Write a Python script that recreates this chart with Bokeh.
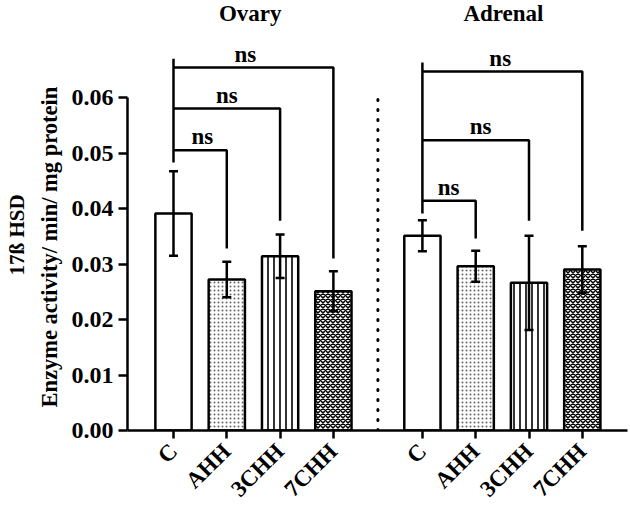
import math
from bokeh.plotting import figure
from bokeh.models import (ColumnDataSource, Whisker, TeeHead, FixedTicker, Range1d,
                          Title, NumeralTickFormatter)
from bokeh.core.properties import value
from bokeh.embed import file_html
from bokeh.resources import INLINE

# ---------------- data ----------------
treatments = ["C", "AHH", "3CHH", "7CHH"]
groups = ["Ovary", "Adrenal"]
group_offsets = [0.0, 4.67]

ovary_mean = [0.0391, 0.0272, 0.0314, 0.0251]
ovary_err = [0.0076, 0.0032, 0.0039, 0.0036]
adrenal_mean = [0.0351, 0.0296, 0.0266, 0.0290]
adrenal_err = [0.0028, 0.0028, 0.0085, 0.0042]

y_ticks = [0.0, 0.01, 0.02, 0.03, 0.04, 0.05, 0.06]
y_title_lines = ["17ß HSD", "Enzyme activity/ min/ mg protein"]

# significance brackets (C vs each treatment), per group
ovary_stem = [0.0483, 0.0670]
ovary_bracket_y = [0.0505, 0.0580, 0.0654]
ovary_drop_y = [0.0328, 0.0378, 0.0310]
ovary_label_x = [0.54, 1.00, 1.35]
adrenal_stem = [0.0391, 0.0663]
adrenal_bracket_y = [0.0414, 0.0523, 0.0647]
adrenal_drop_y = [0.0346, 0.0378, 0.0360]
adrenal_label_x = [0.49, 1.09, 1.46]
bracket_labels = ["ns", "ns", "ns"]

# ---------------- styling ----------------
FONT = value("Liberation Serif")
FONT_NAME = "Liberation Serif"
LW = 2.5

p = figure(frame_width=500, frame_height=430, min_border_left=127, min_border_right=3,
           min_border_top=0, min_border_bottom=79,
           x_range=Range1d(-0.863, 8.518), y_range=Range1d(0, 0.07748),
           output_backend="svg", toolbar_location=None, tools="")
p.outline_line_color = None
p.xgrid.visible = False
p.ygrid.visible = False
p.background_fill_color = "white"
p.border_fill_color = "white"

means = [ovary_mean, adrenal_mean]
errs = [ovary_err, adrenal_err]

hatch_styles = {
    "C": dict(),
    "AHH": dict(hatch_pattern="dot", hatch_scale=4, hatch_weight=1.3, hatch_color="#666666"),
    "3CHH": dict(hatch_pattern="vertical_line", hatch_scale=6, hatch_weight=1.6, hatch_color="black"),
    "7CHH": dict(hatch_pattern="diagonal_cross", hatch_scale=5, hatch_weight=1.5, hatch_color="black"),
}

positions = []
labels = {}
for gi, g in enumerate(groups):
    for ti, t in enumerate(treatments):
        x = group_offsets[gi] + ti
        positions.append(x)
        labels[x] = t

for ti, t in enumerate(treatments):
    xs = [group_offsets[gi] + ti for gi in range(len(groups))]
    tops = [means[gi][ti] for gi in range(len(groups))]
    src = ColumnDataSource(dict(x=xs, top=tops))
    p.vbar(x="x", top="top", width=0.68, source=src, fill_color="white",
           line_color="black", line_width=LW, **hatch_styles[t])

# error bars
ex, eu, el = [], [], []
for gi in range(len(groups)):
    for ti in range(len(treatments)):
        ex.append(group_offsets[gi] + ti)
        eu.append(means[gi][ti] + errs[gi][ti])
        el.append(means[gi][ti] - errs[gi][ti])
esrc = ColumnDataSource(dict(x=ex, upper=eu, lower=el))
w = Whisker(base="x", upper="upper", lower="lower", source=esrc, line_width=LW,
            line_color="black", level="overlay",
            upper_head=TeeHead(size=9, line_width=LW, line_color="black"),
            lower_head=TeeHead(size=9, line_width=LW, line_color="black"))
p.add_layout(w)

# separator between groups
sep_x = (positions[3] + positions[4]) / 2
p.line([sep_x, sep_x], [y_ticks[0], y_ticks[-1]], line_color="black", line_width=3,
       line_dash="1 9", line_cap="round")

# brackets
stems = [ovary_stem, adrenal_stem]
bys = [ovary_bracket_y, adrenal_bracket_y]
dys = [ovary_drop_y, adrenal_drop_y]
lxs = [ovary_label_x, adrenal_label_x]
bx_all, by_all = [], []
tx, ty, tt = [], [], []
for gi in range(len(groups)):
    c = group_offsets[gi]
    bx_all.append([c, c])
    by_all.append(stems[gi])
    for k in range(3):
        tgt = c + k + 1
        bx_all.append([c, tgt, tgt])
        by_all.append([bys[gi][k], bys[gi][k], dys[gi][k]])
        tx.append(c + lxs[gi][k])
        ty.append(bys[gi][k] + 0.0024)
        tt.append(bracket_labels[k])
p.multi_line(bx_all, by_all, line_color="black", line_width=LW)
p.text(x=tx, y=ty, text=tt, text_font=FONT, text_font_style="bold",
       text_font_size="23px", text_align="center", text_baseline="middle", text_color="black")

# group titles
gx = [group_offsets[gi] + 1.44 + (0.08 if gi else 0) for gi in range(len(groups))]
p.text(x=gx, y=[0.0774, 0.0774], text=groups, text_font=FONT, text_font_style="bold",
       text_font_size="23px", text_align="center", text_baseline="top", text_color="black")

# axes
p.yaxis.ticker = FixedTicker(ticks=y_ticks)
p.yaxis.bounds = (y_ticks[0], y_ticks[-1])
p.yaxis.formatter = NumeralTickFormatter(format="0.00")
p.xaxis.ticker = FixedTicker(ticks=positions)
p.xaxis.major_label_overrides = labels
p.xaxis.major_label_orientation = math.pi / 4
for ax in (p.xaxis, p.yaxis):
    ax.axis_line_width = LW
    ax.axis_line_color = "black"
    ax.major_tick_line_width = LW
    ax.major_tick_line_color = "black"
    ax.major_tick_in = 0
    ax.minor_tick_line_color = None
    ax.major_label_text_font = FONT_NAME
    ax.major_label_text_font_style = "bold"
    ax.major_label_text_color = "black"
p.yaxis.major_tick_out = 9
p.xaxis.major_tick_out = 8
p.yaxis.major_label_text_font_size = "24px"
p.xaxis.major_label_text_font_size = "23px"
p.yaxis.major_label_standoff = 5
p.xaxis.major_label_standoff = 9

# two-line y-axis title as left-side titles (offset shifts them up from frame bottom)
p.add_layout(Title(text=y_title_lines[1], align="left", offset=23, standoff=13,
                   text_font=FONT_NAME, text_font_style="bold", text_font_size="22.5px",
                   text_color="black"), "left")
p.add_layout(Title(text=y_title_lines[0], align="left", offset=155, standoff=0,
                   text_font=FONT_NAME, text_font_style="bold", text_font_size="21px",
                   text_color="black"), "left")

open("out.html", "w").write(file_html(p, INLINE))
